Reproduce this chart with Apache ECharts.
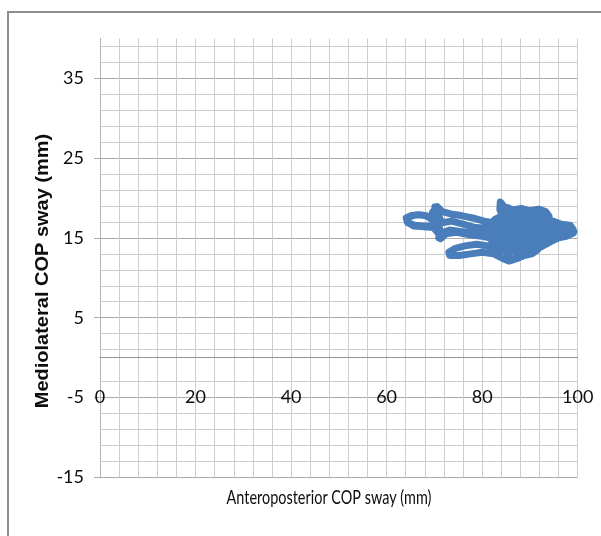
<!DOCTYPE html>
<html>
<head>
<meta charset="utf-8">
<script src="https://cdn.jsdelivr.net/npm/echarts@6/dist/echarts.min.js"></script>
<style>
  html, body { margin: 0; padding: 0; background: #ffffff; }
  #chart { width: 601px; height: 536px; }
</style>
</head>
<body>
<div id="chart"></div>
<script>
// Centre-of-pressure trace, in recording order (mm)
const apSway = [
  86.5, 89.2, 92.4, 95.6, 98.0, 99.1, 97.6, 95.0, 92.6, 90.0, 87.2, 84.6, 82.2,
  80.2, 77.8, 75.4, 73.2, 71.6, 70.9, 71.3, 70.6, 69.4,
  67.6, 65.8, 64.4, 64.1, 65.2, 67.0, 68.8, 69.9,
  70.4, 70.1, 70.8, 71.0, 71.6,
  73.6, 76.2, 78.6, 81.2, 83.6, 86.8, 90.4, 93.6, 96.8, 98.9, 97.0, 94.2, 91.0, 88.0, 85.0, 82.6,
  84.2, 83.7, 83.8, 84.6, 86.4, 88.2, 90.0, 91.8, 93.3, 94.0, 92.2, 89.6, 87.0, 85.2,
  86.6, 89.4, 92.0, 94.8, 96.6, 98.4, 99.0,
  85.0, 82.4, 80.4, 78.0, 75.6, 73.4, 71.6, 70.6, 69.6, 69.8,
  68.2, 66.2, 64.6, 64.3, 65.6, 67.8, 69.8, 70.8, 71.3, 72.4,
  74.6, 77.4, 80.0, 82.6, 85.2, 88.0, 91.0, 93.6, 95.4, 97.8, 96.0, 94.2, 92.4, 90.4, 88.0, 85.4, 83.4,
  81.2, 78.8, 76.4, 74.4, 73.0, 73.2, 75.2, 77.6, 80.0, 82.4, 84.4, 85.6, 87.2, 88.8, 90.4, 91.6,
  89.2, 86.6, 84.2, 82.0, 84.0, 86.8, 89.6, 92.2, 94.8, 97.2, 99.2, 97.4,
  93.4, 90.8, 88.4, 85.8, 83.0, 82.0, 83.6, 86.2, 88.6, 91.2, 93.8, 92.0, 89.0, 86.2, 84.0,
  85.4, 87.4, 89.4, 91.2, 92.8, 90.6, 87.6, 85.2, 86.4, 88.0
];
const mlSway = [
  15.8, 16.3, 15.9, 15.6, 15.9, 15.6, 15.2, 14.9, 15.2, 14.7, 15.0, 15.4, 15.6,
  15.4, 15.6, 15.8, 16.0, 15.6, 15.0, 15.9, 16.8, 16.5,
  16.5, 16.6, 16.9, 17.5, 17.8, 17.9, 17.7, 17.4,
  18.2, 18.9, 18.6, 17.6, 16.9,
  17.1, 16.7, 16.3, 16.2, 16.5, 16.6, 16.9, 16.6, 16.4, 16.1, 16.0, 16.2, 16.1, 16.3, 16.9, 17.3,
  17.8, 18.6, 19.5, 18.9, 18.5, 18.7, 18.4, 18.6, 18.3, 17.7, 17.9, 17.7, 17.9, 18.2,
  17.3, 17.2, 17.3, 17.1, 16.7, 16.6, 16.1,
  17.0, 16.9, 17.1, 17.5, 17.8, 18.0, 18.3, 18.9, 18.2, 17.2,
  17.8, 17.9, 17.6, 17.0, 16.5, 16.4, 16.3, 15.6, 14.9, 15.5,
  15.7, 15.4, 15.2, 14.9, 14.4, 14.2, 14.4, 14.9, 15.2, 15.4, 15.0, 14.5, 13.9, 13.4, 13.6, 13.2, 13.6,
  14.0, 14.2, 14.0, 13.7, 13.2, 12.8, 12.8, 13.0, 13.2, 13.0, 12.4, 12.1, 12.4, 12.8, 13.0, 13.5,
  13.9, 13.8, 14.2, 14.6, 15.1, 15.4, 15.5, 15.4, 15.9, 16.2, 15.8, 15.6,
  14.2, 14.0, 14.8, 14.6, 14.4, 15.2, 15.8, 16.2, 15.4, 15.0, 15.6, 16.5, 17.0, 17.5, 17.6,
  18.8, 18.2, 18.1, 18.4, 17.6, 16.4, 15.7, 12.8, 12.3, 12.9
];

const xTicks = [0, 20, 40, 60, 80, 100];
const yTicks = [-15, -5, 5, 15, 25, 35];

const tickFont = "Lato, 'Open Sans', sans-serif";
const textColor = '#0d0d0d';
const minorGrid = '#cdcdcd';
const majorGrid = '#aaaaaa';

// Horizontal gridlines every 2 mm from -15; the -1 line is left out
// (the axis itself runs along 0 just above it).
const rowColors = [];
for (let v = -15; v < 40; v += 2) {
  if (v === -1) rowColors.push('rgba(0,0,0,0)');
  else if ((v + 15) % 10 === 0) rowColors.push(majorGrid);
  else rowColors.push(minorGrid);
}

const chart = echarts.init(document.getElementById('chart'), null, { renderer: 'canvas' });

chart.setOption({
  backgroundColor: '#ffffff',
  animation: false,
  grid: {
    left: 100, right: 23.3, top: 38.4, bottom: 58.7,
    containLabel: false, outerBoundsMode: 'none'
  },
  xAxis: {
    type: 'value',
    min: 0, max: 100, interval: 20,
    axisLine: { show: true, onZero: true, onZeroAxisIndex: 0, lineStyle: { color: '#959595', width: 1 } },
    axisTick: { show: false },
    axisLabel: {
      customValues: xTicks,
      // labels sit on the -5 row, above the plot's lower edge
      margin: -89,
      fontFamily: tickFont, fontSize: 18, color: textColor
    },
    splitLine: { show: true, lineStyle: { color: minorGrid, width: 1 } },
    minorTick: { show: false, splitNumber: 5 },
    minorSplitLine: { show: true, lineStyle: { color: minorGrid, width: 1 } }
  },
  yAxis: [
    {
      type: 'value',
      min: -15, max: 40,
      axisLine: { show: true, onZero: false, lineStyle: { color: '#b5b5b5', width: 1 } },
      axisTick: { show: true, customValues: yTicks, length: 6, inside: false, lineStyle: { color: majorGrid } },
      axisLabel: {
        customValues: yTicks,
        margin: 16,
        fontFamily: tickFont, fontSize: 18, color: textColor
      },
      splitLine: { show: false }
    },
    {
      // helper scale: carries the 2 mm gridline rows, offset so they start at -15
      type: 'value',
      min: 0, max: 55, interval: 2,
      position: 'left',
      axisLine: { show: false },
      axisTick: { show: false },
      axisLabel: { show: false },
      splitLine: {
        show: true, showMinLine: true, showMaxLine: false,
        lineStyle: { color: rowColors, width: 1 }
      }
    }
  ],
  series: [
    {
      type: 'line',
      xAxisIndex: 0,
      yAxisIndex: 0,
      data: apSway.map((x, i) => [x, mlSway[i]]),
      showSymbol: false,
      smooth: false,
      lineStyle: { color: '#4a7ebb', width: 7, cap: 'round', join: 'round' },
      z: 5
    }
  ],
  graphic: [
    {
      type: 'rect',
      shape: { x: 8, y: 12, width: 640, height: 560 },
      style: { fill: 'none', stroke: '#8e8e8e', lineWidth: 2 },
      silent: true, z: 0
    },
    {
      type: 'text',
      x: 43, y: 271,
      rotation: Math.PI / 2,
      scaleY: 0.9,
      style: {
        text: 'Mediolateral COP sway (mm)',
        fontFamily: "'Liberation Sans', Arial, sans-serif",
        fontWeight: 'bold', fontSize: 20,
        fill: textColor, align: 'center', verticalAlign: 'middle'
      }
    },
    {
      type: 'text',
      x: 329, y: 498,
      scaleX: 0.76,
      style: {
        text: 'Anteroposterior COP sway (mm)',
        fontFamily: tickFont, fontSize: 19,
        fill: textColor, align: 'center', verticalAlign: 'middle'
      }
    }
  ]
});
</script>
</body>
</html>
